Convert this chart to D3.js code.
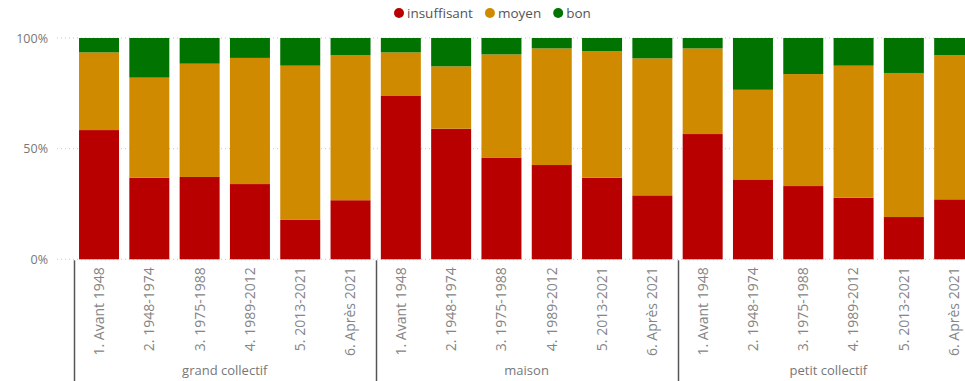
<!DOCTYPE html>
<html>
<head>
<meta charset="utf-8">
<script src="https://cdn.jsdelivr.net/npm/d3@7"></script>
<style>
  html, body { margin: 0; padding: 0; background: #fff; overflow: hidden; }
  svg { display: block; font-family: "Segoe UI", "Open Sans", "Noto Sans", sans-serif; }
</style>
</head>
<body>
<svg id="chart" width="965" height="381"></svg>
<script>
// Building type (outer axis level) and construction period (inner level)
const groups = ["grand collectif", "maison", "petit collectif"];
const periods = ["1. Avant 1948", "2. 1948-1974", "3. 1975-1988", "4. 1989-2012", "5. 2013-2021", "6. Après 2021"];

// Share of each rating, in %, per building type x period (group by group)
const insuffisant = [58.4, 36.9, 37.2, 34.0, 17.8, 26.7,
                     73.8, 59.0, 45.8, 42.6, 36.9, 28.9,
                     56.6, 36.1, 33.1, 27.8, 19.1, 27.1];
const moyen       = [35.1, 45.2, 51.2, 57.0, 69.7, 65.6,
                     19.7, 28.2, 46.8, 52.7, 57.1, 61.9,
                     38.7, 40.5, 50.6, 59.7, 65.1, 65.1];
const bon         = [6.5, 17.9, 11.6, 9.0, 12.5, 7.7,
                     6.5, 12.8, 7.4, 4.7, 6.0, 9.2,
                     4.7, 23.4, 16.3, 12.5, 15.8, 7.8];

const seriesNames = ["insuffisant", "moyen", "bon"];
const seriesColors = ["#B80000", "#D08A00", "#007300"];
const yTicks = [0, 0.5, 1];

// Flat rows, one per bar
const rows = [];
groups.forEach((g, gi) => periods.forEach((p, pi) => {
  const i = gi * periods.length + pi;
  rows.push({ key: g + "|" + p, group: g, period: p,
              insuffisant: insuffisant[i], moyen: moyen[i], bon: bon[i] });
}));

const svg = d3.select("#chart");

const x = d3.scaleBand()
  .domain(rows.map(d => d.key))
  .range([74, 979.2])
  .paddingInner(0.205)
  .paddingOuter(0.1);

const y = d3.scaleLinear().domain([0, 1]).range([259.3, 38]);
const color = d3.scaleOrdinal().domain(seriesNames).range(seriesColors);

const stacked = d3.stack()
  .keys(seriesNames)
  .offset(d3.stackOffsetExpand)(rows);

// Gridlines
svg.append("g")
  .selectAll("line")
  .data(yTicks)
  .join("line")
  .attr("x1", 57).attr("x2", 965)
  .attr("y1", d => y(d)).attr("y2", d => y(d))
  .attr("stroke", "#c8c8c8")
  .attr("stroke-width", 1)
  .attr("stroke-dasharray", "1,3");

// Y axis labels
const yAxis = svg.append("g")
  .attr("transform", "translate(48,0)")
  .call(d3.axisLeft(y).tickValues(yTicks).tickFormat(d3.format(".0%")).tickSize(0).tickPadding(0));
yAxis.select(".domain").remove();
yAxis.selectAll("text")
  .attr("fill", "#777")
  .attr("font-size", "12.5px")
  .attr("font-family", "\"Segoe UI\", \"Open Sans\", sans-serif");

// Stacked bars
svg.append("g")
  .selectAll("g")
  .data(stacked)
  .join("g")
  .attr("fill", s => color(s.key))
  .selectAll("rect")
  .data(s => s)
  .join("rect")
  .attr("x", d => x(d.data.key))
  .attr("width", x.bandwidth())
  .attr("y", d => y(d[1]))
  .attr("height", d => y(d[0]) - y(d[1]));

// Inner axis: period labels, rotated
const xAxis = svg.append("g")
  .attr("transform", `translate(0,${y(0)})`)
  .call(d3.axisBottom(x).tickSize(0).tickFormat(k => k.split("|")[1]));
xAxis.select(".domain").remove();
xAxis.selectAll("text")
  .attr("fill", "#858585")
  .attr("font-size", "14px")
  .attr("font-family", "\"Segoe UI\", \"Open Sans\", sans-serif")
  .attr("transform", "rotate(-90)")
  .attr("text-anchor", "end")
  .attr("x", -8)
  .attr("y", 0)
  .attr("dy", "0.35em");

// Outer axis: group separators and labels
const half = (x.step() - x.bandwidth()) / 2;
const groupSpans = groups.map(g => {
  const keys = rows.filter(r => r.group === g).map(r => r.key);
  return { group: g,
           x0: x(keys[0]) - half,
           x1: x(keys[keys.length - 1]) + x.bandwidth() + half };
});

svg.append("g")
  .selectAll("line")
  .data(groupSpans)
  .join("line")
  .attr("x1", d => Math.round(d.x0) + 0.5).attr("x2", d => Math.round(d.x0) + 0.5)
  .attr("y1", y(0) + 1).attr("y2", 381)
  .attr("stroke", "#555")
  .attr("stroke-width", 1.5);

svg.append("g")
  .selectAll("text")
  .data(groupSpans)
  .join("text")
  .attr("x", d => (d.x0 + d.x1) / 2)
  .attr("y", 370)
  .attr("dy", "0.35em")
  .attr("text-anchor", "middle")
  .attr("fill", "#777")
  .attr("font-size", "13px")
  .text(d => d.group);

// Legend
const legend = svg.append("g").attr("transform", "translate(0,13)");
const items = legend.selectAll("g")
  .data(seriesNames)
  .join("g");
items.append("circle")
  .attr("r", 5)
  .attr("fill", d => color(d));
items.append("text")
  .attr("x", 8)
  .attr("dy", "0.35em")
  .attr("fill", "#555")
  .attr("font-size", "13.5px")
  .text(d => d);

let cx = 399;
items.each(function () {
  const g = d3.select(this);
  g.attr("transform", `translate(${cx},0)`);
  const w = g.select("text").node().getComputedTextLength();
  cx += 8 + w + 17;
});
</script>
</body>
</html>
